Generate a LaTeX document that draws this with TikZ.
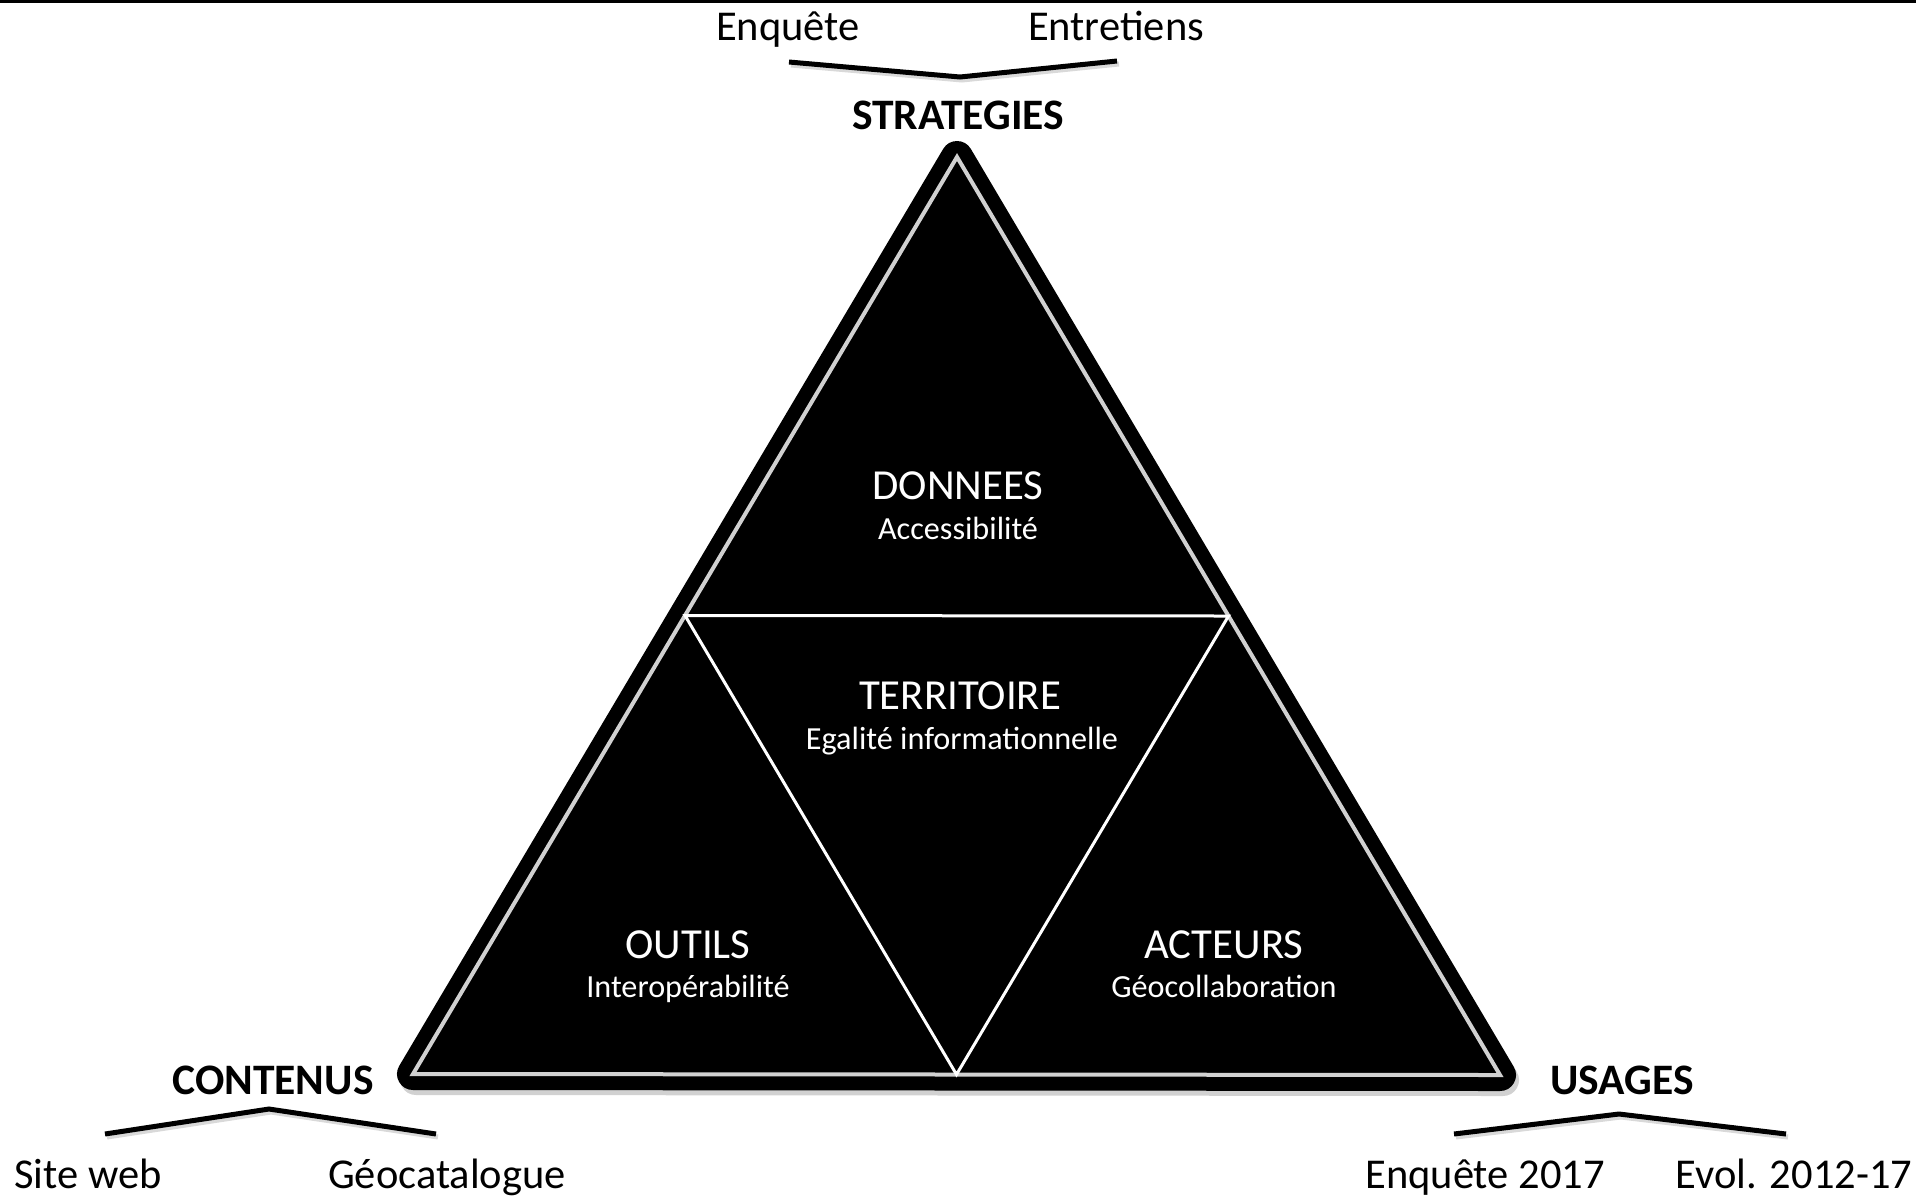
\documentclass[tikz,border=0pt]{standalone}
\usepackage{fontspec}
\setmainfont{Carlito}
\usetikzlibrary{calc}
\begin{document}
\begin{tikzpicture}[x=1pt,y=-1pt,
  big/.style={font=\fontsize{42.5}{50}\selectfont, anchor=base, inner sep=0pt},
  bigb/.style={font=\fontsize{43.5}{50}\selectfont\bfseries, anchor=base, inner sep=0pt},
  inlab/.style={font=\fontsize{42.8}{50}\selectfont, anchor=base, inner sep=0pt, text=white},
  insub/.style={font=\fontsize{32.2}{38}\selectfont, anchor=base, inner sep=0pt, text=white},
  bracket/.style={line width=5pt, line join=miter, line cap=butt},
  divline/.style={white, line width=3pt},
  rimline/.style={black!18, line width=4pt, line join=miter}
]
\useasboundingbox (0,0) rectangle (1916,1195);
% top rule
\coordinate (tl) at (0,1.5);
\coordinate (tr) at (1916,1.5);
\draw[line width=3pt] (tl) -- (tr);

% triangle vertices (inner rim)
\coordinate (A) at (957,157);
\coordinate (B) at (413,1074);
\coordinate (C) at (1500,1075);
\coordinate (AB) at ($(A)!0.5!(B)$);
\coordinate (AC) at ($(A)!0.5!(C)$);
\coordinate (BC) at ($(B)!0.5!(C)$);

% shadow
\draw[black, opacity=0.18, line width=32pt, line join=round, fill=black]
  ([shift={(3,5)}]A) -- ([shift={(3,5)}]B) -- ([shift={(3,5)}]C) -- cycle;
% body
\draw[black, line width=32pt, line join=round, fill=black] (A) -- (B) -- (C) -- cycle;
\draw[rimline] (A) -- (B) -- (C) -- cycle;
\draw[divline] (AB) -- (AC) -- (BC) -- cycle;

% inner labels
\node[inlab] (don) at (958,499) {DONNEES};
\node[insub] (acc) at (958,539) {Accessibilité};
\node[inlab] (ter) at (960,709) {TERRITOIRE};
\node[insub] (ega) at (962,749) {Egalité informationnelle};
\node[inlab] (out) at (688,958) {OUTILS};
\node[insub] (int) at (688,997) {Interopérabilité};
\node[inlab] (act) at (1224,958) {ACTEURS};
\node[insub] (geo) at (1224,997) {Géocollaboration};

% corner titles
\node[bigb] (str) at (958,129) {STRATEGIES};
\node[bigb] (con) at (273,1094) {CONTENUS};
\node[bigb] (usa) at (1622,1094) {USAGES};

% method labels
\node[big] (enq) at (788,40) {Enquête};
\node[big] (ent) at (1116,40) {Entretiens};
\node[big] (site) at (88,1188) {Site web};
\node[big] (gcat) at (447,1188) {Géocatalogue};
\node[big] (e17) at (1485,1188) {Enquête 2017};
\node[big] (evo) at (1794,1188) {Evol. 2012-17};

% brackets
\coordinate (t1) at (789,62);
\coordinate (t2) at (960,77);
\coordinate (t3) at (1117,61);
\coordinate (c1) at (105,1134);
\coordinate (c2) at (269,1109);
\coordinate (c3) at (436,1134);
\coordinate (u1) at (1454,1134);
\coordinate (u2) at (1619,1114);
\coordinate (u3) at (1786,1134);
\foreach \p/\q/\r in {t1/t2/t3,c1/c2/c3,u1/u2/u3}{
  \draw[bracket, black!25, opacity=0.6] ([shift={(2,3)}]\p) -- ([shift={(2,3)}]\q) -- ([shift={(2,3)}]\r);
  \draw[bracket] (\p) -- (\q) -- (\r);
}
\end{tikzpicture}
\end{document}
